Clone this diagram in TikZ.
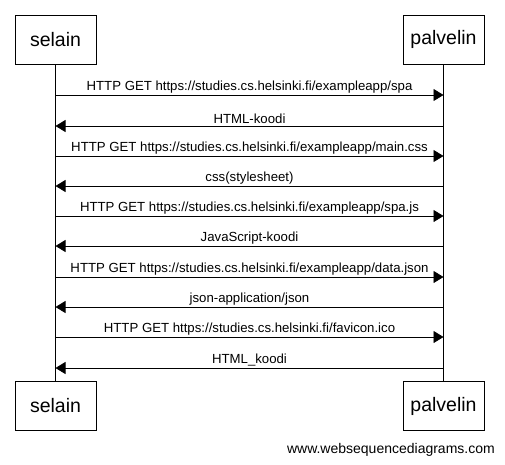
\documentclass[tikz,border=0pt]{standalone}
\usepackage{fontspec}
\setmainfont{Liberation Sans}
\usetikzlibrary{arrows.meta}
\begin{document}
\begin{tikzpicture}[x=1pt,y=-1pt,
  actor/.style={draw,line width=0.8pt,minimum width=81pt,minimum height=49pt,inner sep=0pt,font=\fontsize{19.5}{22}\selectfont},
  msg/.style={line width=0.8pt,-{Triangle[length=10pt,width=12pt]}},
  lbl/.style={font=\fontsize{13.2}{15}\selectfont,above=0.5pt,inner sep=1pt},
  life/.style={line width=0.8pt}]
\useasboundingbox (0,0) rectangle (505,464);
\node[actor] (st) at (55.5,39.5) {selain};
\node[actor] (pt) at (443.5,39.5) {palvelin};
\node[actor] (sb) at (55.5,406) {selain};
\node[actor] (pb) at (443.5,406) {palvelin};
\draw[life] (st.south) -- (sb.north);
\draw[life] (pt.south) -- (pb.north);
\foreach \y/\t/\d in {95/{HTTP GET https://studies.cs.helsinki.fi/exampleapp/spa}/r,
  126/{HTML-koodi}/l,
  156/{HTTP GET https://studies.cs.helsinki.fi/exampleapp/main.css}/r,
  186/{css(stylesheet)}/l,
  216/{HTTP GET https://studies.cs.helsinki.fi/exampleapp/spa.js}/r,
  246/{JavaScript-koodi}/l,
  277/{HTTP GET https://studies.cs.helsinki.fi/exampleapp/data.json}/r,
  307/{json-application/json}/l,
  337/{HTTP GET https://studies.cs.helsinki.fi/favicon.ico}/r,
  368/{HTML\_koodi}/l}{
  \coordinate (a) at (55.5,\y);
  \coordinate (b) at (443.5,\y);
  \if r\d
    \draw[msg] (a) -- node[lbl] {\t} (b);
  \else
    \draw[msg] (b) -- node[lbl] {\t} (a);
  \fi
}
\node[anchor=east,font=\fontsize{14}{16}\selectfont,inner sep=0pt] (wm) at (495,450) {www.websequencediagrams.com};
\end{tikzpicture}
\end{document}
